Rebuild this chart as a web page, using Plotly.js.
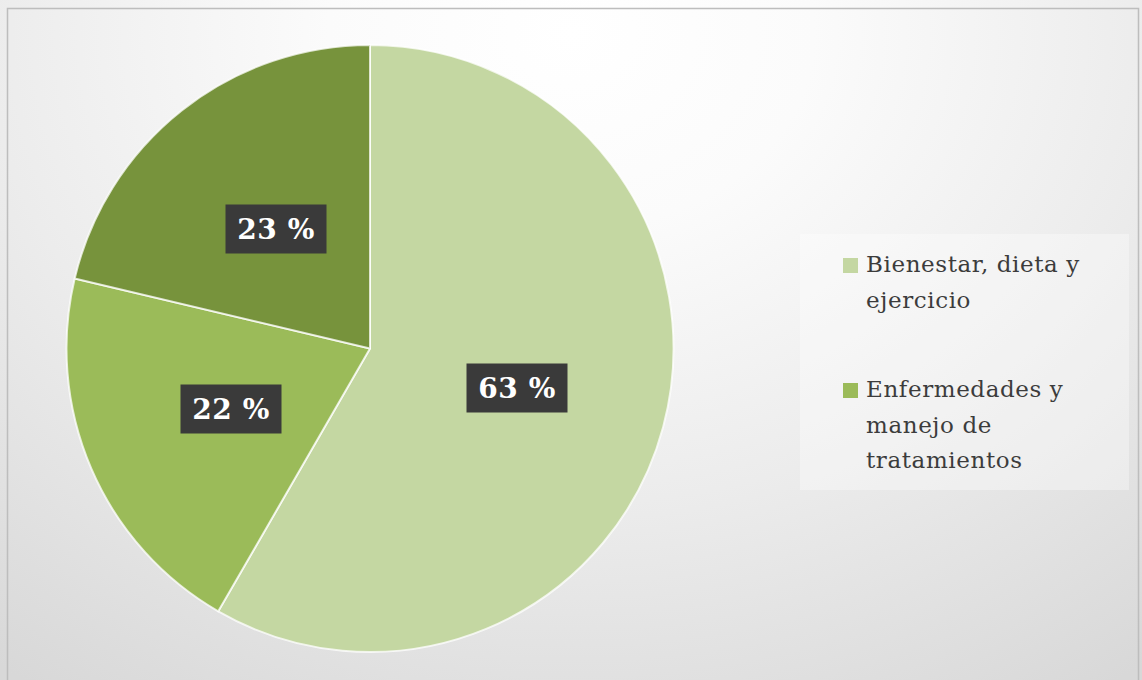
<!DOCTYPE html>
<html>
<head>
<meta charset="utf-8">
<script src="https://cdn.plot.ly/plotly-3.0.1.min.js"></script>
<style>
  html, body { margin: 0; padding: 0; }
  #chart {
    width: 1142px; height: 680px;
    background: radial-gradient(ellipse 85% 115% at 50% 5%, #ffffff 0%, #fbfbfb 25%, #ececec 60%, #d8d8d8 100%);
  }
  .annotation-text { letter-spacing: 0.6px; }
</style>
</head>
<body>
<div id="chart"></div>
<script>
// ---- data ----
const sliceValues = [63, 22, 23];
const sliceLabels = ['Bienestar, dieta y ejercicio', 'Enfermedades y manejo de tratamientos', 'Otros'];
const sliceText = ['63 %', '22 %', '23 %'];
const sliceColors = ['#c4d7a2', '#9bbb59', '#77933c'];
const legendLines = [['Bienestar, dieta y', 'ejercicio'], ['Enfermedades y', 'manejo de', 'tratamientos']];

// ---- geometry ----
const W = 1142, H = 680;
const px = x => x / W;
const py = y => 1 - y / H;
const pieBox = { x0: 65, x1: 675, y0: 45, y1: 652 };
const cx = (pieBox.x0 + pieBox.x1) / 2, cy = (pieBox.y0 + pieBox.y1) / 2;
const R = Math.min(pieBox.x1 - pieBox.x0, pieBox.y1 - pieBox.y0) / 2;

const total = sliceValues.reduce((a, b) => a + b, 0);
const annotations = [];
const shapes = [];

// slice labels at mid-angle, half radius (clockwise from 12 o'clock)
let cum = 0;
sliceValues.forEach((v, i) => {
  const mid = (cum + v / 2) / total * 2 * Math.PI;
  cum += v;
  const lx = cx + 0.5 * R * Math.sin(mid);
  const ly = cy - 0.5 * R * Math.cos(mid);
  annotations.push({
    xref: 'paper', yref: 'paper', x: px(lx), y: py(ly),
    xanchor: 'center', yanchor: 'middle', showarrow: false,
    text: '<b>' + sliceText[i] + '</b>',
    font: { family: 'DejaVu Serif', size: 28, color: '#ffffff' },
    bgcolor: '#3a3a3a', width: 100, height: 48, borderpad: 0
  });
});

// chart border
shapes.push({ type: 'rect', xref: 'paper', yref: 'paper', x0: px(7.5), x1: px(1138.5), y0: py(8.5), y1: py(690),
  line: { color: '#bdbdbd', width: 1.5 }, fillcolor: 'rgba(0,0,0,0)', layer: 'below' });

// legend box
shapes.push({ type: 'rect', xref: 'paper', yref: 'paper', x0: px(800), x1: px(1129), y0: py(234), y1: py(490),
  line: { width: 0 }, fillcolor: 'rgba(255,255,255,0.35)', layer: 'below' });

// legend entries
const entryTop = [258, 383];
legendLines.forEach((lines, i) => {
  shapes.push({ type: 'rect', xref: 'paper', yref: 'paper',
    x0: px(843), x1: px(858), y0: py(entryTop[i]), y1: py(entryTop[i] + 15),
    line: { width: 0 }, fillcolor: sliceColors[i] });
  lines.forEach((t, j) => {
    annotations.push({
      xref: 'paper', yref: 'paper', x: px(864), y: py(entryTop[i] + 6 + j * 35.5),
      xanchor: 'left', yanchor: 'middle', showarrow: false, text: t,
      font: { family: 'DejaVu Serif', size: 23, color: '#3c3c3c' }
    });
  });
});

const trace = {
  type: 'pie',
  values: sliceValues,
  labels: sliceLabels,
  marker: { colors: sliceColors, line: { color: 'rgba(255,255,255,0.75)', width: 2 } },
  sort: false,
  direction: 'clockwise',
  rotation: 0,
  textinfo: 'none',
  hoverinfo: 'label+text',
  hovertext: sliceText,
  showlegend: false,
  domain: { x: [px(pieBox.x0), px(pieBox.x1)], y: [py(pieBox.y1), py(pieBox.y0)] }
};

const layout = {
  width: W, height: H,
  margin: { l: 0, r: 0, t: 0, b: 0 },
  paper_bgcolor: 'rgba(0,0,0,0)',
  plot_bgcolor: 'rgba(0,0,0,0)',
  showlegend: false,
  annotations: annotations,
  shapes: shapes
};

Plotly.newPlot('chart', [trace], layout, { displayModeBar: false, staticPlot: true });
</script>
</body>
</html>
